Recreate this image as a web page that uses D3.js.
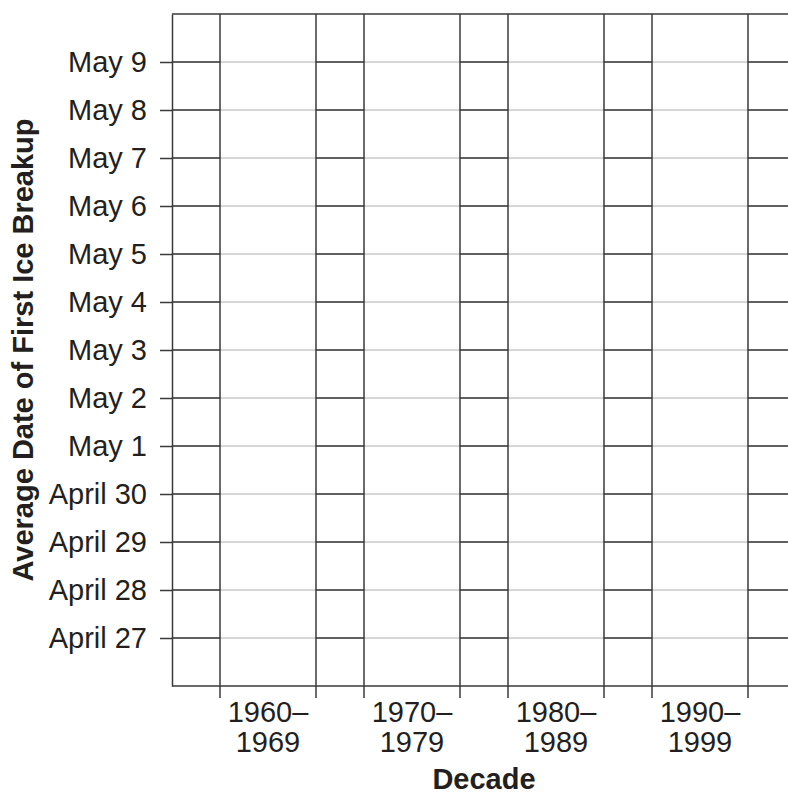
<!DOCTYPE html>
<meta charset="utf-8">
<style>
  body { margin: 0; background: #fff; }
  text { font-family: "Liberation Sans", Arial, Helvetica, sans-serif; fill: #231f20; }
</style>
<body>
<script src="https://cdn.jsdelivr.net/npm/d3@7"></script>
<script>

    var decadeStart = ["1960–", "1970–", "1980–", "1990–"];
    var decadeEnd = ["1969", "1979", "1989", "1999"];
    var dateLabels = ["April 27", "April 28", "April 29", "April 30", "May 1", "May 2",
                      "May 3", "May 4", "May 5", "May 6", "May 7", "May 8", "May 9"];
    var dateRange = ["April 26", "May 10"];

    var w = 788, h = 795;
    var plotLeft = 172, plotRight = 796, plotTop = 14, plotBottom = 686;
    var fontSize = 29;

    var parse = d3.timeParse("%B %d");

    var svg = d3.select("body")
            .append("svg")
            .attr("width", w)
            .attr("height", h);

    var x = d3.scaleBand()
            .domain(decadeStart)
            .range([plotLeft, plotRight])
            .paddingInner(1 / 3)
            .paddingOuter(1 / 3);

    var y = d3.scaleTime()
            .domain(dateRange.map(parse))
            .range([plotBottom, plotTop]);

    var ticks = dateLabels.map(parse);

    // light grid across the whole plot
    svg.append("g").selectAll("line")
            .data(ticks)
            .enter()
            .append("line")
            .attr("x1", plotLeft)
            .attr("x2", plotRight)
            .attr("y1", function(d) { return y(d); })
            .attr("y2", function(d) { return y(d); })
            .attr("stroke", "#c8c8c8")
            .attr("stroke-width", 1.5);

    // dark grid in the gaps between the decade bands
    var gaps = [];
    var edges = [plotLeft];
    decadeStart.forEach(function(d) {
        edges.push(x(d));
        edges.push(x(d) + x.bandwidth());
    });
    edges.push(plotRight);
    for (var i = 0; i < edges.length; i += 2) gaps.push([edges[i], edges[i + 1]]);

    gaps.forEach(function(g) {
        svg.append("g").selectAll("line")
                .data(ticks)
                .enter()
                .append("line")
                .attr("x1", g[0])
                .attr("x2", g[1])
                .attr("y1", function(d) { return y(d); })
                .attr("y2", function(d) { return y(d); })
                .attr("stroke", "#3a3a3a")
                .attr("stroke-width", 1.5);
    });

    // band edges, running a little below the plot
    svg.append("g").selectAll("line")
            .data(edges.slice(1, -1))
            .enter()
            .append("line")
            .attr("x1", function(d) { return d; })
            .attr("x2", function(d) { return d; })
            .attr("y1", plotTop)
            .attr("y2", plotBottom + 12)
            .attr("stroke", "#3a3a3a")
            .attr("stroke-width", 1.5);

    // frame top and bottom
    [plotTop, plotBottom].forEach(function(yy) {
        svg.append("line")
                .attr("x1", plotLeft).attr("x2", plotRight)
                .attr("y1", yy).attr("y2", yy)
                .attr("stroke", "#3a3a3a")
                .attr("stroke-width", 1.5);
    });

    // y axis
    var yAxis = svg.append("g")
            .attr("transform", "translate(" + plotLeft + ",0)")
            .call(d3.axisLeft(y)
                    .tickValues(ticks)
                    .tickSize(12)
                    .tickSizeOuter(0)
                    .tickPadding(13)
                    .tickFormat(function(d, i) { return dateLabels[i]; }));
    yAxis.select(".domain").attr("stroke", "#3a3a3a").attr("stroke-width", 1.5);
    yAxis.selectAll(".tick line").attr("stroke", "#3a3a3a").attr("stroke-width", 1.5);
    yAxis.selectAll("text")
            .attr("font-size", fontSize)
            .attr("fill", "#231f20")
            .style("font-family", "'Liberation Sans', Arial, sans-serif");

    // x labels, two lines each
    var xl = svg.append("g").selectAll("text")
            .data(decadeStart)
            .enter()
            .append("text")
            .attr("text-anchor", "middle")
            .attr("font-size", fontSize);
    xl.append("tspan")
            .attr("x", function(d) { return x(d) + x.bandwidth() / 2; })
            .attr("y", 722)
            .text(function(d) { return d; });
    xl.append("tspan")
            .attr("x", function(d) { return x(d) + x.bandwidth() / 2; })
            .attr("y", 752)
            .text(function(d, i) { return decadeEnd[i]; });

    // axis titles
    svg.append("text")
            .attr("x", (x(decadeStart[0]) + x(decadeStart[3]) + x.bandwidth()) / 2)
            .attr("y", 789)
            .attr("text-anchor", "middle")
            .attr("font-size", fontSize)
            .attr("font-weight", "bold")
            .text("Decade");

    svg.append("text")
            .attr("transform", "translate(33," + (plotTop + plotBottom) / 2 + ") rotate(-90)")
            .attr("text-anchor", "middle")
            .attr("font-size", fontSize)
            .attr("font-weight", "bold")
            .text("Average Date of First Ice Breakup");

</script>
